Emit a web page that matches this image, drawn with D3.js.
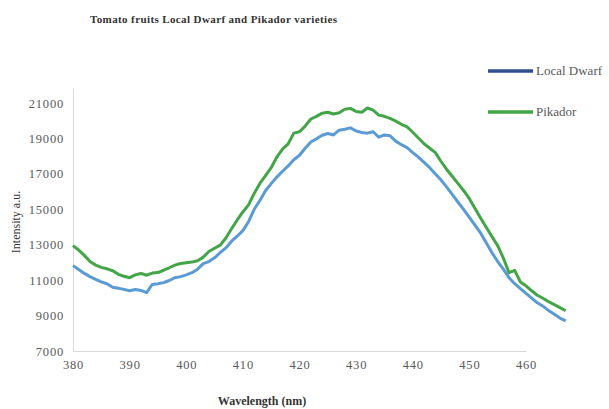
<!DOCTYPE html>
<html>
<head>
<meta charset="utf-8">
<script src="https://cdn.jsdelivr.net/npm/d3@7"></script>
<style>
  body { margin: 0; background: #fff; }
  svg { font-family: "Liberation Serif", "DejaVu Serif", serif; }
  .axis path { stroke: #d9d9d9; }
  .axis text { fill: #595959; font-size: 12.5px; }
</style>
</head>
<body>
<div id="chart"></div>
<script>

// wavelength (nm), one reading per nm
var wavelengths = d3.range(380, 468);

// intensity a.u.
var localDwarf = [
    11820, 11600, 11380, 11200, 11050, 10900, 10800, 10600, 10540, 10480,
    10400, 10470, 10420, 10300, 10760, 10800, 10860, 10980, 11140, 11200,
    11300, 11420, 11620, 11930, 12050, 12260, 12560, 12820, 13200, 13480,
    13800, 14300, 15000, 15500, 16050, 16450, 16820, 17150, 17450, 17800,
    18050, 18450, 18800, 18980, 19180, 19280, 19200, 19470, 19520, 19600,
    19420, 19340, 19300, 19380, 19070, 19200, 19150, 18850, 18650, 18480,
    18200, 17950, 17650, 17350, 17000, 16650, 16250, 15830, 15400, 14980,
    14540, 14100, 13650, 13100, 12550, 12050, 11620, 11140, 10800, 10520,
    10250, 9980, 9720, 9530, 9280, 9070, 8860, 8700
];

var pikador = [
    12950, 12700, 12400, 12050, 11850, 11720, 11640, 11530, 11330, 11220,
    11140, 11300, 11380, 11280, 11400, 11430, 11560, 11700, 11850, 11940,
    11980, 12020, 12100, 12300, 12620, 12800, 12980, 13380, 13900, 14400,
    14850, 15250, 15900, 16460, 16900, 17350, 17950, 18400, 18700, 19300,
    19380, 19700, 20100, 20250, 20430, 20480, 20380, 20450, 20650, 20700,
    20520, 20480, 20720, 20600, 20320, 20250, 20130, 19980, 19800, 19650,
    19350, 19030, 18700, 18450, 18200, 17700, 17250, 16850, 16450, 16050,
    15600, 15050, 14500, 13970, 13450, 12950, 12250, 11420, 11550, 10900,
    10680, 10400, 10150, 9980, 9780, 9620, 9450, 9270
];

var xTicks = [380, 390, 400, 410, 420, 430, 440, 450, 460];
var yTicks = [7000, 9000, 11000, 13000, 15000, 17000, 19000, 21000];

var seriesNames = ["Local Dwarf", "Pikador"];
var lineColors = ["#5b9bd5", "#43a547"];
var legendColors = ["#2f4f8e", "#43a547"];

var width = 609, height = 409;

var svg = d3.select("#chart").append("svg")
    .attr("width", width)
    .attr("height", height);

// scales
var x = d3.scaleLinear().domain([380, 460]).range([73, 526]);
var y = d3.scaleLinear().domain([7000, 21850]).range([351, 88]);

// axes, no tick marks (excel style)
var xAxis = d3.axisBottom(x).tickValues(xTicks).tickSize(0).tickPadding(9)
    .tickFormat(d3.format("d"));
var yAxis = d3.axisLeft(y).tickValues(yTicks).tickSize(0).tickPadding(9)
    .tickFormat(d3.format("d"));

svg.append("g")
    .attr("class", "x-axis axis")
    .attr("transform", "translate(0," + 351 + ")")
    .call(xAxis);

svg.append("g")
    .attr("class", "y-axis axis")
    .attr("transform", "translate(" + 73 + ",0)")
    .call(yAxis);

// d3 puts sans-serif on the axis groups, use the serif face like the rest
svg.selectAll(".axis")
    .attr("font-family", "Liberation Serif, DejaVu Serif, serif")
    .attr("font-size", null);
svg.selectAll(".axis text").attr("letter-spacing", "0.8px");

// lines
var line = d3.line()
    .x(function(d) { return x(d.wl); })
    .y(function(d) { return y(d.v); });

[localDwarf, pikador].forEach(function(values, i) {
    var pts = wavelengths.map(function(wl, j) { return {wl: wl, v: values[j]}; });
    svg.append("path")
        .datum(pts)
        .attr("fill", "none")
        .attr("stroke", lineColors[i])
        .attr("stroke-width", 3)
        .attr("stroke-linejoin", "round")
        .attr("d", line);
});

// title
svg.append("text")
    .attr("x", 90)
    .attr("y", 23)
    .attr("font-size", 11)
    .attr("font-weight", "bold")
    .attr("fill", "#333")
    .attr("textLength", 247)
    .text("Tomato fruits Local Dwarf and Pikador varieties");

// axis titles
svg.append("text")
    .attr("transform", "translate(20,222) rotate(-90)")
    .attr("text-anchor", "middle")
    .attr("font-size", 12)
    .attr("fill", "#333")
    .text("Intensity a.u.");

svg.append("text")
    .attr("x", 262)
    .attr("y", 405)
    .attr("text-anchor", "middle")
    .attr("font-size", 12)
    .attr("font-weight", "bold")
    .attr("fill", "#333")
    .text("Wavelength (nm)");

// legend
var legend = svg.selectAll(".legend")
    .data(seriesNames)
    .enter().append("g")
    .attr("class", "legend")
    .attr("transform", function(d, i) { return "translate(488," + (71 + i * 41) + ")"; });

legend.append("line")
    .attr("x1", 0).attr("x2", 45)
    .attr("stroke", function(d, i) { return legendColors[i]; })
    .attr("stroke-width", 3.5);

legend.append("text")
    .attr("x", 48)
    .attr("y", 4)
    .attr("font-size", 13)
    .attr("fill", "#595959")
    .text(function(d) { return d; });

</script>
</body>
</html>
